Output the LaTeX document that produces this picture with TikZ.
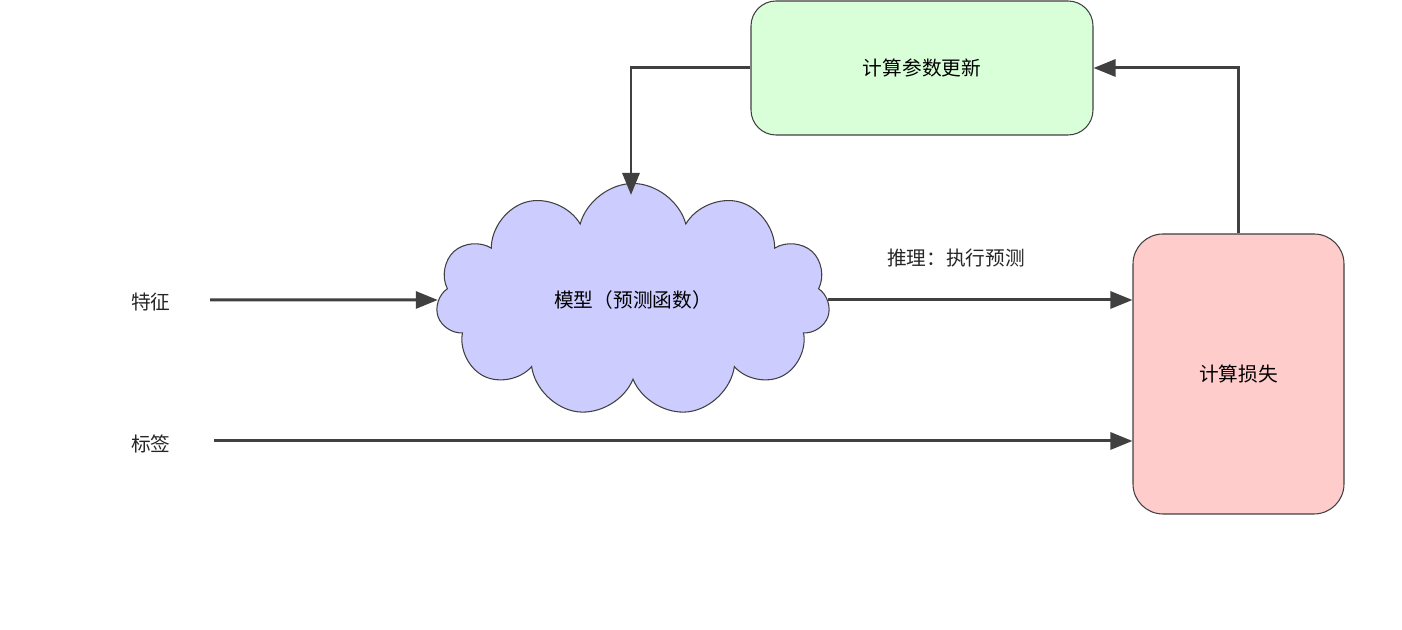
\documentclass[tikz,border=0pt]{standalone}
\usepackage{fontspec}
\setmainfont{Noto Sans CJK SC}
\usetikzlibrary{shapes.symbols,arrows.meta,positioning}

\begin{document}
\begin{tikzpicture}[
    boxnode/.style={draw=black!75, line width=0.3pt, rounded corners=0.25cm, font=\fontsize{5.6}{7}\selectfont},
    textnode/.style={font=\fontsize{5.6}{7}\selectfont, text=black!85},
    flow/.style={line width=0.85pt, draw=black!75, -{Triangle[length=0.22cm,width=0.17cm]}}
]
\useasboundingbox (0,0) rectangle (14.02,6.3);

% Boxes
\node[boxnode, fill=green!15!white, minimum width=3.42cm, minimum height=1.34cm] (update) at (9.22,5.62) {计算参数更新};
\node[boxnode, fill=red!20!white, minimum width=2.11cm, minimum height=2.8cm, rounded corners=0.3cm] (loss) at (12.385,2.56) {计算损失};
\node[cloud, cloud puffs=11, aspect=1.7, draw=black!75, line width=0.3pt, fill=blue!20!white, minimum width=3.94cm, minimum height=2.33cm, inner sep=0pt, font=\fontsize{5.6}{7}\selectfont] (model) at (6.33,3.3) {模型（预测函数）};

% Inputs
\node[textnode] (feat) at (1.51,3.28) {特征};
\node[textnode] (label) at (1.51,1.86) {标签};
\coordinate (featend) at (2.1,3.3);
\coordinate (labelend) at (2.14,1.89);
\coordinate (cloudtop) at (6.31,4.35);

% Connectors
\draw[flow] (featend) -- (model.west);
\draw[flow] (labelend) -- (labelend -| loss.west);
\draw[flow] (model.east) -- (model.east -| loss.west) node[textnode, pos=0.42, above=0.2cm] (infer) {推理：执行预测};
\draw[flow] (loss.north) |- (update.east);
\draw[flow] (update.west) -| (cloudtop);

\end{tikzpicture}
\end{document}
